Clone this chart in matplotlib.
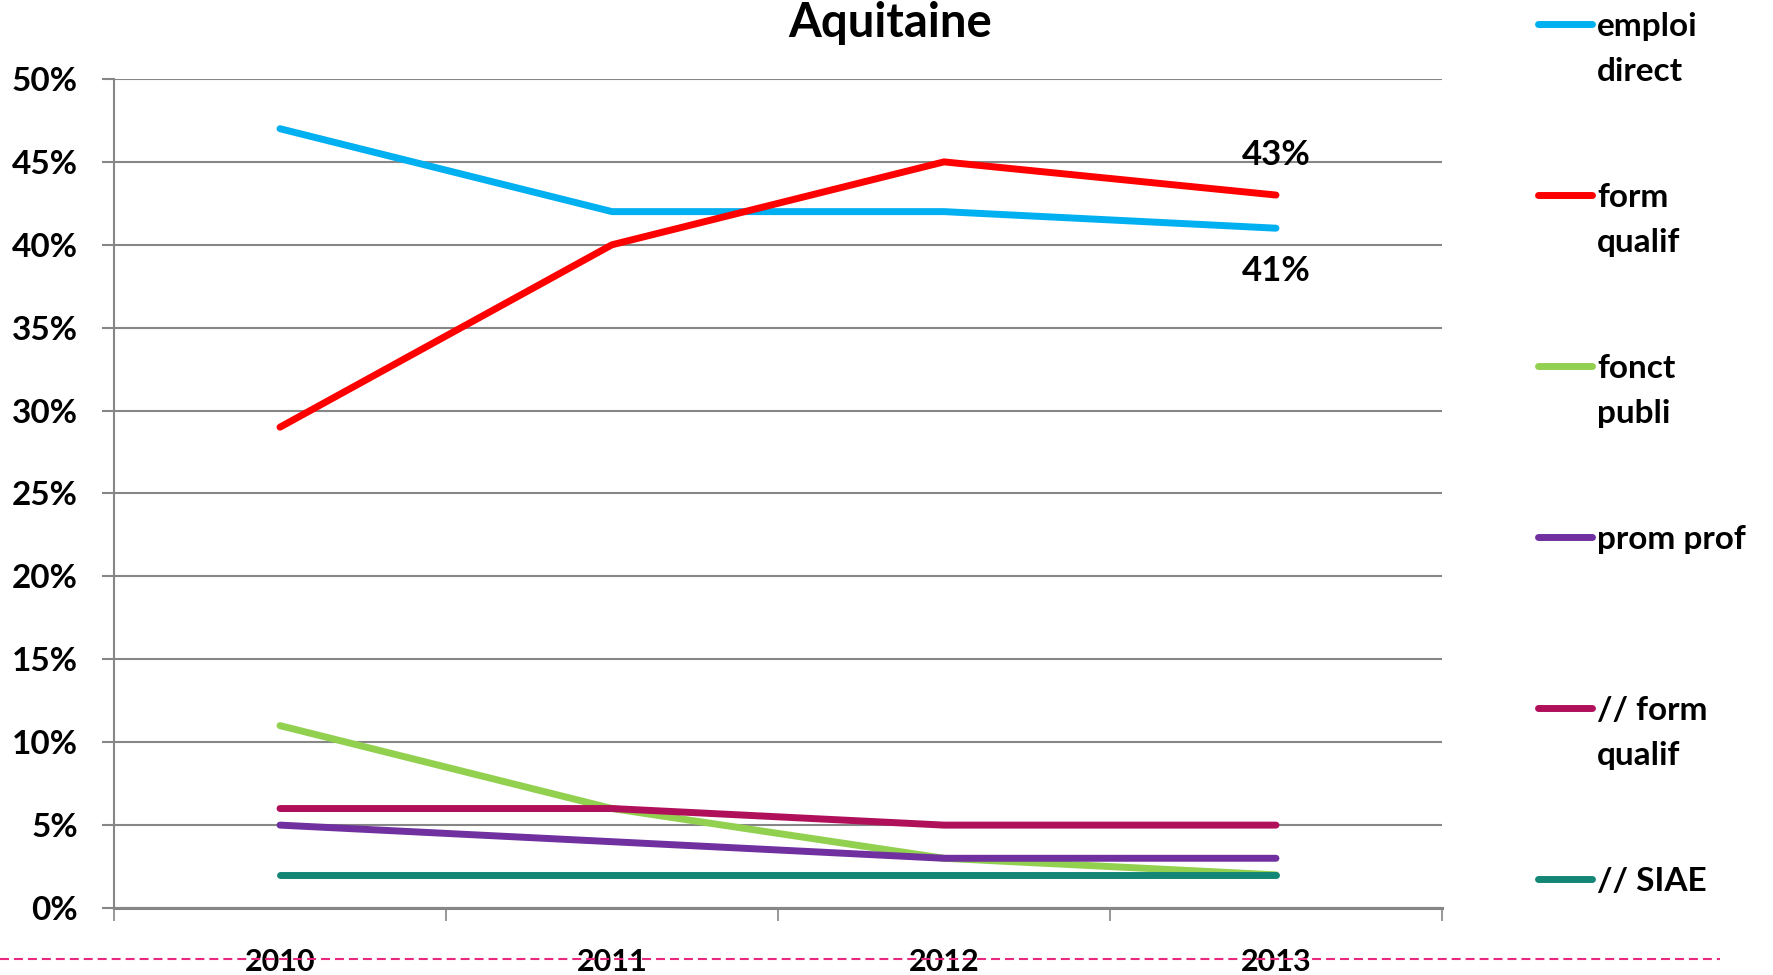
import numpy as np
import matplotlib
matplotlib.use('Agg')
import matplotlib.pyplot as plt
from matplotlib.lines import Line2D
from matplotlib.ticker import FuncFormatter, MultipleLocator

plt.rcParams['font.family'] = ['Lato', 'DejaVu Sans']
plt.rcParams['font.weight'] = 'bold'

# données
years = ['2010', '2011', '2012', '2013']
emploi_direct = [47, 42, 42, 41]
form_qualif = [29, 40, 45, 43]
fonct_publi = [11, 6, 3, 2]
prom_prof = [5, 4, 3, 3]
par_form_qualif = [6, 6, 5, 5]
par_siae = [2, 2, 2, 2]

series = [
    ('emploi\ndirect', emploi_direct, '#00B0F0'),
    ('form\nqualif', form_qualif, '#FF0000'),
    ('fonct\npubli', fonct_publi, '#92D050'),
    ('prom prof', prom_prof, '#7030A0'),
    ('// form\nqualif', par_form_qualif, '#B0105A'),
    ('// SIAE', par_siae, '#148675'),
]

fig = plt.figure(figsize=(17.73, 9.75), dpi=100)
ax = fig.add_axes([0.0643, 0.0687, 0.8133 - 0.0643, 0.919 - 0.0687])

x = np.arange(len(years))
for name, vals, col in series:
    ax.plot(x, vals, color=col, lw=5, solid_capstyle='round', zorder=3)

ax.set_xlim(-0.5, len(years) - 0.5)
ax.set_ylim(0, 50)
ax.yaxis.set_major_locator(MultipleLocator(5))
ax.yaxis.set_major_formatter(FuncFormatter(lambda v, p: '%d%%' % v))
ax.yaxis.grid(True, color='#868686', lw=1.5, zorder=0)

ax.set_xticks(x)
ax.set_xticklabels(years)
ax.set_xticks(np.arange(len(years) + 1) - 0.5, minor=True)
ax.tick_params(axis='x', which='major', length=0, pad=29, labelsize=22)
ax.tick_params(axis='x', which='minor', length=9, width=1.2, color='#868686', direction='out')
ax.tick_params(axis='y', length=9, width=1.5, color='#868686', pad=17, labelsize=24)

for s in ['top', 'right']:
    ax.spines[s].set_visible(False)
ax.spines['left'].set_color('#868686')
ax.spines['left'].set_linewidth(1.5)
ax.spines['bottom'].set_color('#868686')
ax.spines['bottom'].set_linewidth(2.2)

# étiquettes 2013
ax.annotate('%d%%' % form_qualif[-1], (x[-1], form_qualif[-1]), xytext=(0, 29),
            textcoords='offset points', ha='center', va='center', fontsize=25)
ax.annotate('%d%%' % emploi_direct[-1], (x[-1], emploi_direct[-1]), xytext=(0, -31),
            textcoords='offset points', ha='center', va='center', fontsize=25)

fig.text(0.502, 1 - 37 / 975, 'Aquitaine', ha='center', va='baseline', fontsize=34)

# légende
for i, (name, vals, col) in enumerate(series):
    yl = 1 - (24 + 171 * i) / 975
    fig.add_artist(Line2D([1538 / 1773, 1592 / 1773], [yl, yl], color=col, lw=5,
                          solid_capstyle='round'))
    for j, part in enumerate(name.split('\n')):
        fig.text(1597 / 1773, yl - j * 45 / 975, part, ha='left', va='center_baseline',
                 fontsize=24)

# ligne pointillée
fig.add_artist(Line2D([0, 1720 / 1773], [1 - 959 / 975] * 2, color='#E8297F', lw=1.5,
                      dashes=(4.3, 2.4)))

fig.savefig('out.png', dpi=100)
